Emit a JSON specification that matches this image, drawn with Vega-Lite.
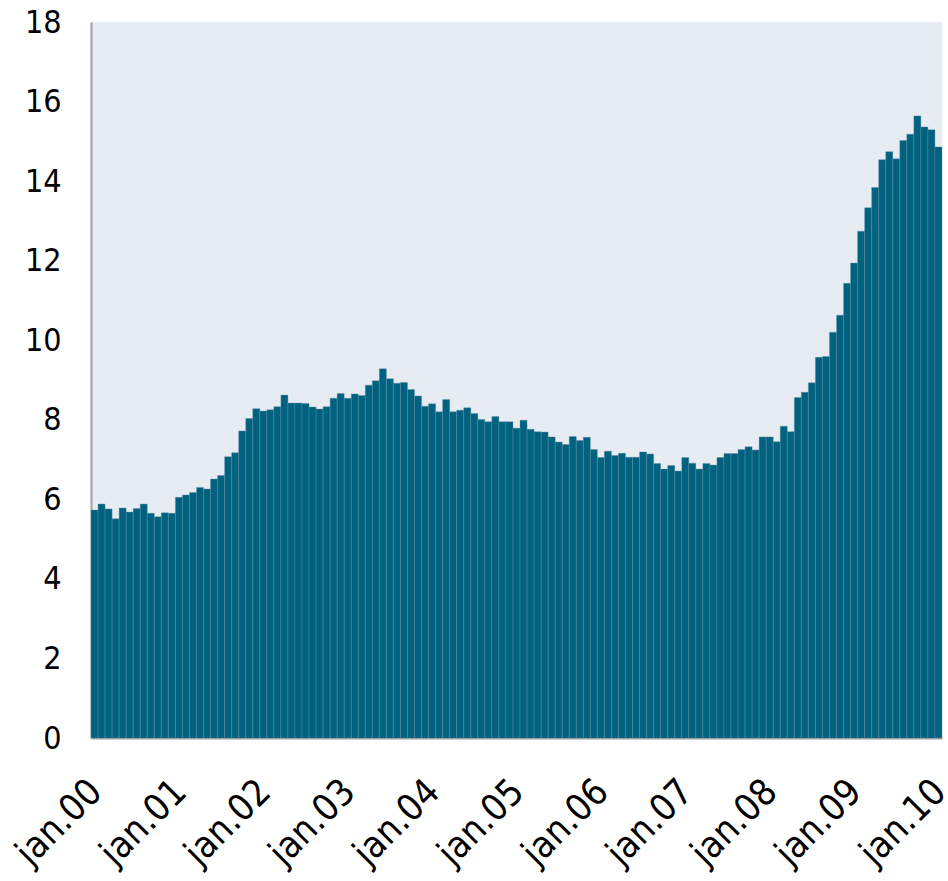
{
  "$schema": "https://vega.github.io/schema/vega-lite/v6.json",
  "autosize": "none",
  "width": 851,
  "height": 716,
  "padding": {"left": 91, "top": 22, "right": 6, "bottom": 143},
  "background": "#ffffff",
  "config": {
    "view": {"fill": "#E7ECF3", "stroke": null},
    "font": "DejaVu Sans Condensed"
  },
  "data": {
    "values": [
      {"m": "2000-01", "v": 5.73}, {"m": "2000-02", "v": 5.88}, {"m": "2000-03", "v": 5.76}, {"m": "2000-04", "v": 5.51},
      {"m": "2000-05", "v": 5.78}, {"m": "2000-06", "v": 5.68}, {"m": "2000-07", "v": 5.77}, {"m": "2000-08", "v": 5.88},
      {"m": "2000-09", "v": 5.65}, {"m": "2000-10", "v": 5.56}, {"m": "2000-11", "v": 5.66}, {"m": "2000-12", "v": 5.65},
      {"m": "2001-01", "v": 6.05}, {"m": "2001-02", "v": 6.11}, {"m": "2001-03", "v": 6.17}, {"m": "2001-04", "v": 6.30},
      {"m": "2001-05", "v": 6.26}, {"m": "2001-06", "v": 6.51}, {"m": "2001-07", "v": 6.60}, {"m": "2001-08", "v": 7.07},
      {"m": "2001-09", "v": 7.17}, {"m": "2001-10", "v": 7.72}, {"m": "2001-11", "v": 8.03}, {"m": "2001-12", "v": 8.28},
      {"m": "2002-01", "v": 8.22}, {"m": "2002-02", "v": 8.25}, {"m": "2002-03", "v": 8.33}, {"m": "2002-04", "v": 8.62},
      {"m": "2002-05", "v": 8.42}, {"m": "2002-06", "v": 8.42}, {"m": "2002-07", "v": 8.41}, {"m": "2002-08", "v": 8.32},
      {"m": "2002-09", "v": 8.27}, {"m": "2002-10", "v": 8.33}, {"m": "2002-11", "v": 8.54}, {"m": "2002-12", "v": 8.66},
      {"m": "2003-01", "v": 8.54}, {"m": "2003-02", "v": 8.65}, {"m": "2003-03", "v": 8.61}, {"m": "2003-04", "v": 8.87},
      {"m": "2003-05", "v": 8.98}, {"m": "2003-06", "v": 9.28}, {"m": "2003-07", "v": 9.03}, {"m": "2003-08", "v": 8.92},
      {"m": "2003-09", "v": 8.94}, {"m": "2003-10", "v": 8.76}, {"m": "2003-11", "v": 8.60}, {"m": "2003-12", "v": 8.34},
      {"m": "2004-01", "v": 8.40}, {"m": "2004-02", "v": 8.20}, {"m": "2004-03", "v": 8.51}, {"m": "2004-04", "v": 8.20},
      {"m": "2004-05", "v": 8.24}, {"m": "2004-06", "v": 8.30}, {"m": "2004-07", "v": 8.16}, {"m": "2004-08", "v": 8.01},
      {"m": "2004-09", "v": 7.95}, {"m": "2004-10", "v": 8.08}, {"m": "2004-11", "v": 7.95}, {"m": "2004-12", "v": 7.95},
      {"m": "2005-01", "v": 7.79}, {"m": "2005-02", "v": 7.99}, {"m": "2005-03", "v": 7.76}, {"m": "2005-04", "v": 7.70},
      {"m": "2005-05", "v": 7.69}, {"m": "2005-06", "v": 7.57}, {"m": "2005-07", "v": 7.44}, {"m": "2005-08", "v": 7.38},
      {"m": "2005-09", "v": 7.58}, {"m": "2005-10", "v": 7.48}, {"m": "2005-11", "v": 7.56}, {"m": "2005-12", "v": 7.25},
      {"m": "2006-01", "v": 7.05}, {"m": "2006-02", "v": 7.21}, {"m": "2006-03", "v": 7.10}, {"m": "2006-04", "v": 7.16},
      {"m": "2006-05", "v": 7.06}, {"m": "2006-06", "v": 7.06}, {"m": "2006-07", "v": 7.19}, {"m": "2006-08", "v": 7.14},
      {"m": "2006-09", "v": 6.90}, {"m": "2006-10", "v": 6.76}, {"m": "2006-11", "v": 6.85}, {"m": "2006-12", "v": 6.71},
      {"m": "2007-01", "v": 7.05}, {"m": "2007-02", "v": 6.91}, {"m": "2007-03", "v": 6.76}, {"m": "2007-04", "v": 6.90},
      {"m": "2007-05", "v": 6.86}, {"m": "2007-06", "v": 7.05}, {"m": "2007-07", "v": 7.15}, {"m": "2007-08", "v": 7.15},
      {"m": "2007-09", "v": 7.25}, {"m": "2007-10", "v": 7.32}, {"m": "2007-11", "v": 7.24}, {"m": "2007-12", "v": 7.57},
      {"m": "2008-01", "v": 7.57}, {"m": "2008-02", "v": 7.45}, {"m": "2008-03", "v": 7.84}, {"m": "2008-04", "v": 7.70},
      {"m": "2008-05", "v": 8.56}, {"m": "2008-06", "v": 8.69}, {"m": "2008-07", "v": 8.93}, {"m": "2008-08", "v": 9.57},
      {"m": "2008-09", "v": 9.59}, {"m": "2008-10", "v": 10.20}, {"m": "2008-11", "v": 10.63}, {"m": "2008-12", "v": 11.43},
      {"m": "2009-01", "v": 11.94}, {"m": "2009-02", "v": 12.74}, {"m": "2009-03", "v": 13.33}, {"m": "2009-04", "v": 13.84},
      {"m": "2009-05", "v": 14.54}, {"m": "2009-06", "v": 14.74}, {"m": "2009-07", "v": 14.56}, {"m": "2009-08", "v": 15.02},
      {"m": "2009-09", "v": 15.18}, {"m": "2009-10", "v": 15.64}, {"m": "2009-11", "v": 15.36}, {"m": "2009-12", "v": 15.29},
      {"m": "2010-01", "v": 14.86}
    ]
  },
  "mark": {"type": "bar", "color": "#00627F", "stroke": "#5F8EA6", "strokeWidth": 0.4},
  "encoding": {
    "x": {
      "field": "m",
      "type": "ordinal",
      "sort": null,
      "scale": {"paddingInner": 0, "paddingOuter": 0},
      "axis": {
        "title": null,
        "values": ["2000-01", "2001-01", "2002-01", "2003-01", "2004-01", "2005-01", "2006-01", "2007-01", "2008-01", "2009-01", "2010-01"],
        "labelExpr": "'jan.' + substring(datum.value, 2, 4)",
        "labelAngle": -45,
        "labelFontSize": 37,
        "labelColor": "#000000",
        "labelPadding": 35,
        "labelOffset": -11,
        "labelOverlap": false,
        "labelBound": false,
        "ticks": false,
        "tickSize": 0,
        "domainColor": "#A0A0A0",
        "domainWidth": 2,
        "grid": false
      }
    },
    "y": {
      "field": "v",
      "type": "quantitative",
      "scale": {"domain": [0, 18], "nice": false},
      "axis": {
        "title": null,
        "values": [0, 2, 4, 6, 8, 10, 12, 14, 16, 18],
        "labelFontSize": 32,
        "labelColor": "#000000",
        "labelPadding": 30,
        "ticks": false,
        "tickSize": 0,
        "domainColor": "#A0A0A0",
        "domainWidth": 2,
        "grid": false
      }
    }
  }
}
